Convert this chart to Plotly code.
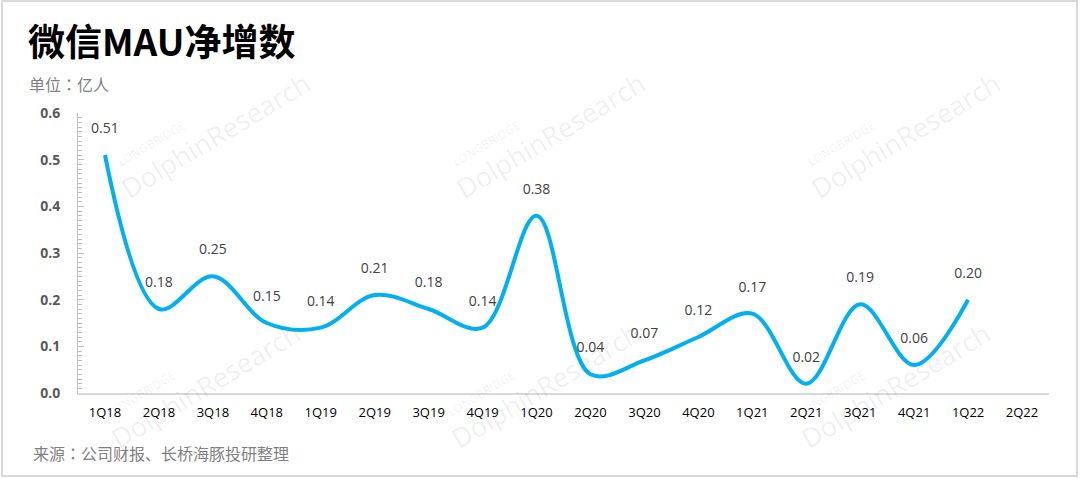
import plotly.graph_objects as go

categories = ["1Q18", "2Q18", "3Q18", "4Q18", "1Q19", "2Q19", "3Q19", "4Q19", "1Q20",
              "2Q20", "3Q20", "4Q20", "1Q21", "2Q21", "3Q21", "4Q21", "1Q22", "2Q22"]
mau_net_add = [0.51, 0.18, 0.25, 0.15, 0.14, 0.21, 0.18, 0.14, 0.38,
               0.04, 0.07, 0.12, 0.17, 0.02, 0.19, 0.06, 0.20, None]
labels = ["" if v is None else f"{v:.2f}" for v in mau_net_add]

title_text = "微信MAU净增数"
unit_text = "单位<span style='font-family:Noto Sans CJK TC'>：</span>亿人"
source_text = "来源<span style='font-family:Noto Sans CJK TC'>：</span>公司财报、长桥海豚投研整理"

W, H = 1080, 478
L, R, T, B = 78, 1049, 113, 393


def px(x):
    return (x - L) / (R - L)


def py(y):
    return (B - y) / (B - T)


fig = go.Figure()
fig.add_trace(go.Scatter(
    x=categories, y=mau_net_add,
    mode="lines+markers+text",
    line=dict(color="#00B0F0", width=4, shape="spline", smoothing=1.0),
    marker=dict(size=28, color="rgba(0,0,0,0)"),
    text=labels, textposition="top center",
    textfont=dict(family="Open Sans", size=14, color="#404040"),
    cliponaxis=False, hoverinfo="skip", showlegend=False,
))

annotations = []
# watermarks
for cx, cy in [(215, 135), (550, 135), (905, 135), (205, 385), (545, 385), (895, 385)]:
    annotations.append(dict(
        x=px(cx), y=py(cy), xref="paper", yref="paper", text="DolphinResearch",
        showarrow=False, textangle=-31, xanchor="center", yanchor="middle",
        font=dict(family="Open Sans", size=27, color="rgba(0,0,0,0.07)")))
    annotations.append(dict(
        x=px(cx - 64), y=py(cy + 8), xref="paper", yref="paper", text="LONGBRIDGE",
        showarrow=False, textangle=-31, xanchor="center", yanchor="middle",
        font=dict(family="Open Sans", size=12, color="rgba(0,0,0,0.07)")))

annotations += [
    dict(x=px(26), y=py(40), xref="paper", yref="paper", text=f"<b>{title_text}</b>",
         showarrow=False, xanchor="left", yanchor="middle",
         font=dict(family="Noto Sans CJK SC", size=37, color="#000000", weight=900)),
    dict(x=px(27), y=py(84), xref="paper", yref="paper", text=unit_text,
         showarrow=False, xanchor="left", yanchor="middle",
         font=dict(family="Noto Sans CJK SC", size=16, color="#7F7F7F")),
    dict(x=px(31), y=py(453), xref="paper", yref="paper", text=source_text,
         showarrow=False, xanchor="left", yanchor="middle",
         font=dict(family="Noto Sans CJK SC", size=16, color="#7F7F7F")),
]

fig.update_layout(
    width=W, height=H,
    margin=dict(l=L, r=W - R, t=T, b=H - B),
    paper_bgcolor="white", plot_bgcolor="white",
    annotations=annotations,
    shapes=[dict(type="rect", xref="paper", yref="paper",
                 x0=px(2), x1=px(1077), y0=py(476), y1=py(1),
                 line=dict(color="#D9D9D9", width=2), layer="below")],
)
fig.update_xaxes(
    type="category", range=[-0.5, len(categories) - 0.5],
    showline=True, linecolor="#D9D9D9", linewidth=2, showgrid=False, zeroline=False,
    ticks="", ticklabelstandoff=6,
    tickfont=dict(family="Open Sans", size=13, color="#000000", weight=500),
)
fig.update_yaxes(
    range=[0, 0.6], dtick=0.1, tickformat=".1f",
    showline=True, linecolor="#BFBFBF", linewidth=1, showgrid=False, zeroline=False,
    ticks="inside", ticklen=6, tickcolor="#BFBFBF",
    minor=dict(dtick=0.01, ticks="inside", ticklen=4, tickcolor="#BFBFBF", showgrid=False),
    ticklabelstandoff=14,
    tickfont=dict(family="Open Sans", size=14, color="#595959", weight="bold"),
)

fig.write_html("out.html", config={"displayModeBar": False},
               post_script="document.body.style.margin='0';document.body.style.overflow='hidden';")
